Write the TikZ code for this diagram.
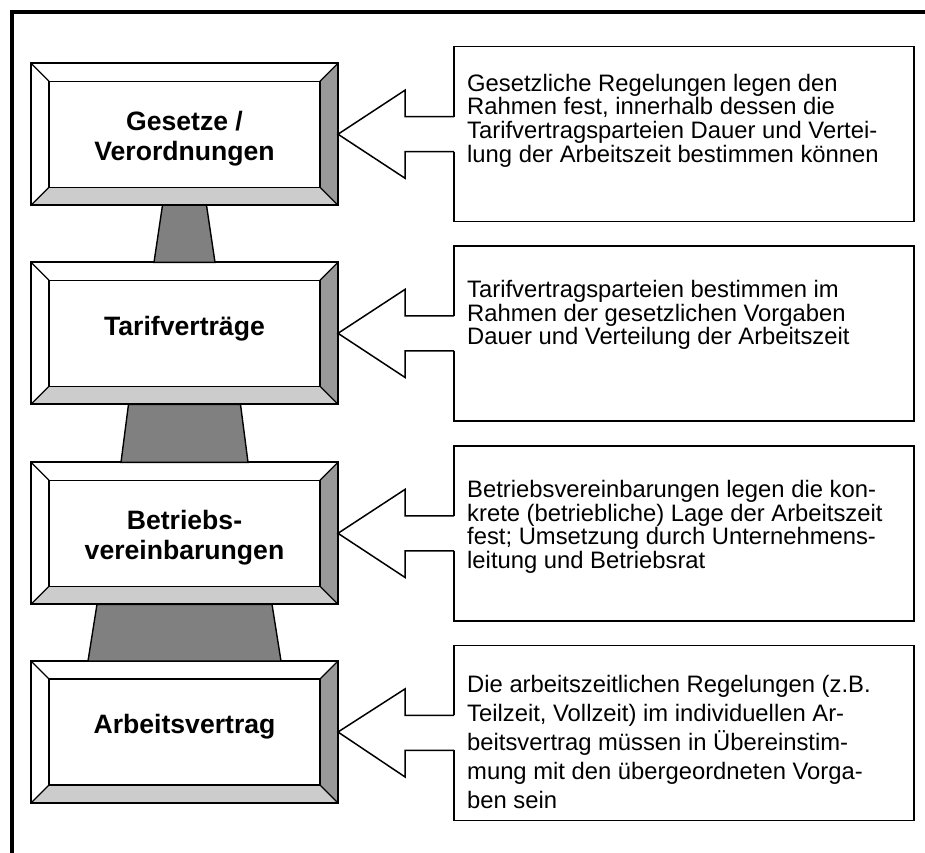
\documentclass[tikz,border=0pt]{standalone}
\usepackage{fontspec}
\setmainfont{Liberation Sans}
\usetikzlibrary{positioning, calc}

\newcommand{\topstrut}{\rule{0pt}{28pt}}

\begin{document}
\begin{tikzpicture}[x=1pt, y=-1pt,
  bevelbox/.style = {draw, line width=1.8pt, minimum width=307pt, minimum height=142pt, inner sep=0pt, outer sep=0pt,
    align=center, font=\bfseries\fontsize{26.6}{30}\selectfont,
    path picture={
      \coordinate (nw) at (path picture bounding box.north west);
      \coordinate (ne) at (path picture bounding box.north east);
      \coordinate (sw) at (path picture bounding box.south west);
      \coordinate (se) at (path picture bounding box.south east);
      \fill[black!40] (ne) -- ($(ne)+(-18pt,-18pt)$) -- ($(se)+(-18pt,18pt)$) -- (se) -- cycle;
      \fill[black!20] (sw) -- ($(sw)+(18pt,18pt)$) -- ($(se)+(-18pt,18pt)$) -- (se) -- cycle;
      \draw[line width=1.3pt] ($(nw)+(18pt,-18pt)$) rectangle ($(se)+(-18pt,18pt)$);
      \draw[line width=1.3pt] (nw) -- ++(18pt,-18pt) (ne) -- ++(-18pt,-18pt)
        (sw) -- ++(18pt,18pt) (se) -- ++(-18pt,18pt);
    }},
  oneline/.style = {text height=19.4pt, text depth=16pt},
  trunk/.style = {draw, line width=1.4pt, fill=black!50},
  note/.style = {draw, line width=1.5pt, minimum width=460pt, minimum height=175pt, inner sep=0pt, outer sep=0pt},
  notetext/.style = {align=left, inner sep=0pt, font=\fontsize{23.8}{23.7}\selectfont},
  pointer/.style = {line width=1.5pt, line join=miter}
]
\useasboundingbox (0,0) rectangle (925,852);
\clip (0,0) rectangle (925,852);
\draw[line width=4pt] (12,880) |- (950,12);

% levels
\node[bevelbox] (gesetze) at (184.5,134.2) {\topstrut Gesetze /\\Verordnungen};
\node[bevelbox, oneline] (tarif) at (184.5,333.3) {Tarifverträge};
\node[bevelbox] (betrieb) at (184.5,533.3) {\topstrut Betriebs-\\vereinbarungen};
\node[bevelbox, oneline] (vertrag) at (184.5,732) {Arbeitsvertrag};

\draw[trunk] ($(gesetze.south)+(-22pt,0)$) -- ($(gesetze.south)+(22pt,0)$) -- ($(tarif.north)+(30.5pt,0)$) -- ($(tarif.north)+(-30.5pt,0)$) -- cycle;
\draw[trunk] ($(tarif.south)+(-56pt,0)$) -- ($(tarif.south)+(56pt,0)$) -- ($(betrieb.north)+(63.5pt,0)$) -- ($(betrieb.north)+(-63.5pt,0)$) -- cycle;
\draw[trunk] ($(betrieb.south)+(-87.5pt,0)$) -- ($(betrieb.south)+(87.5pt,0)$) -- ($(vertrag.north)+(96.5pt,0)$) -- ($(vertrag.north)+(-96.5pt,0)$) -- cycle;

% notes
\node[note] (c1) at (684,134.2) {};
\node[note] (c2) at (684,333.4) {};
\node[note] (c3) at (684,533.4) {};
\node[note] (c4) at (684,732.9) {};

\node[notetext, below right=27pt and 13pt of c1.north west] (t1) {Gesetzliche Regelungen legen den\\Rahmen fest, innerhalb dessen die\\Tarifvertragsparteien Dauer und Vertei-\\lung der Arbeitszeit bestimmen können};
\node[notetext, below right=34pt and 13pt of c2.north west] (t2) {Tarifvertragsparteien bestimmen im\\Rahmen der gesetzlichen Vorgaben\\Dauer und Verteilung der Arbeitszeit};
\node[notetext, below right=34pt and 13pt of c3.north west] (t3) {Betriebsvereinbarungen legen die kon-\\krete (betriebliche) Lage der Arbeitszeit\\fest; Umsetzung durch Unternehmens-\\leitung und Betriebsrat};
\node[notetext, font=\fontsize{23.8}{28.8}\selectfont, below right=30pt and 13pt of c4.north west] (t4) {Die arbeitszeitlichen Regelungen (z.B.\\Teilzeit, Vollzeit) im individuellen Ar-\\beitsvertrag müssen in Übereinstim-\\mung mit den übergeordneten Vorga-\\ben sein};

% pointers
\fill[white] ($(c1.west)+(-49pt,17.5pt)$) rectangle ($(c1.west)+(1.5pt,-17.5pt)$);
\draw[pointer] ($(c1.west)+(0,17.5pt)$) -- ++(-49pt,0) -- ++(0,26.5pt) -- (gesetze.east) -- ($(c1.west)+(-49pt,-44pt)$) -- ++(0,26.5pt) -- ($(c1.west)+(0,-17.5pt)$);
\fill[white] ($(c2.west)+(-49pt,17.5pt)$) rectangle ($(c2.west)+(1.5pt,-17.5pt)$);
\draw[pointer] ($(c2.west)+(0,17.5pt)$) -- ++(-49pt,0) -- ++(0,26.5pt) -- (tarif.east) -- ($(c2.west)+(-49pt,-44pt)$) -- ++(0,26.5pt) -- ($(c2.west)+(0,-17.5pt)$);
\fill[white] ($(c3.west)+(-49pt,17.5pt)$) rectangle ($(c3.west)+(1.5pt,-17.5pt)$);
\draw[pointer] ($(c3.west)+(0,17.5pt)$) -- ++(-49pt,0) -- ++(0,26.5pt) -- (betrieb.east) -- ($(c3.west)+(-49pt,-44pt)$) -- ++(0,26.5pt) -- ($(c3.west)+(0,-17.5pt)$);
\fill[white] ($(c4.west)+(-49pt,17.5pt)$) rectangle ($(c4.west)+(1.5pt,-17.5pt)$);
\draw[pointer] ($(c4.west)+(0,17.5pt)$) -- ++(-49pt,0) -- ++(0,26.5pt) -- (vertrag.east) -- ($(c4.west)+(-49pt,-44pt)$) -- ++(0,26.5pt) -- ($(c4.west)+(0,-17.5pt)$);
\end{tikzpicture}
\end{document}
